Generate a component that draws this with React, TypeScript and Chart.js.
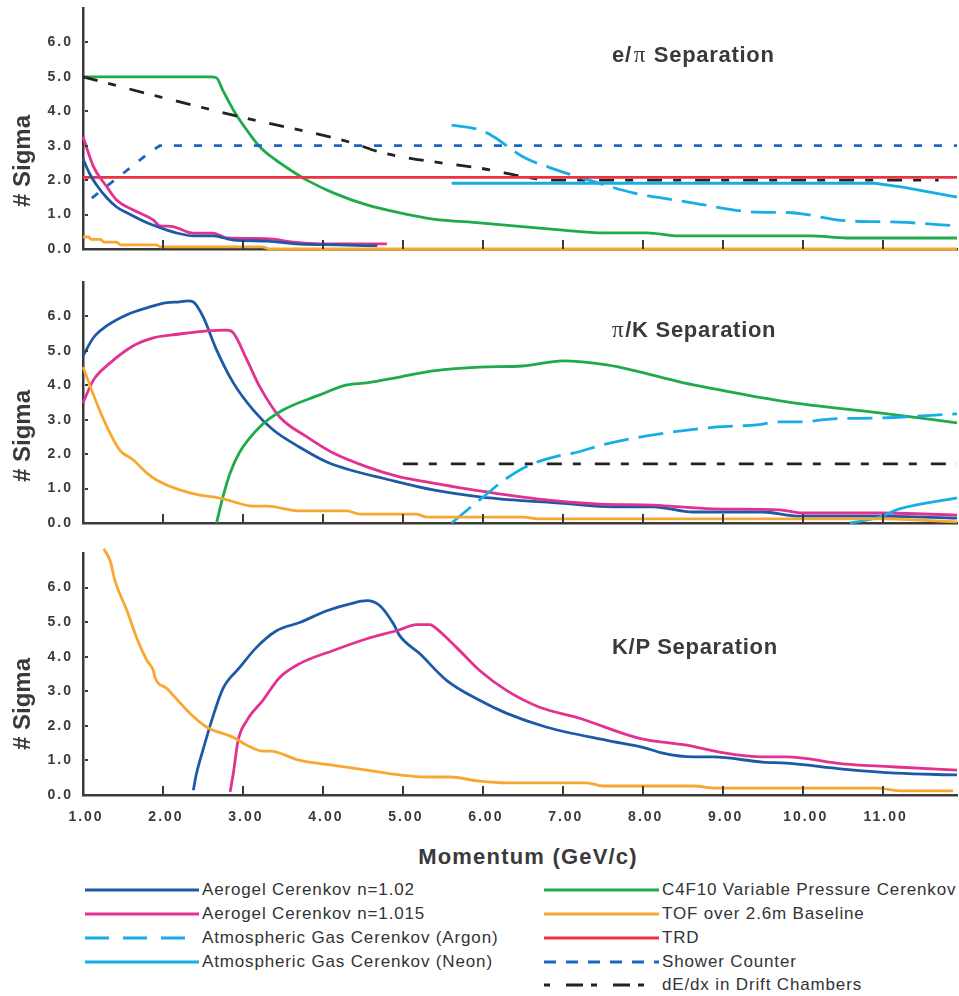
import React, { useEffect, useRef } from "react";
import { Chart, registerables } from "chart.js";

Chart.register(...registerables);

type Pt = [number, number];

// ---------------- data: e/pi separation ----------------
const epAerogel102: Pt[] = [[1, 2.62], [1.08, 2.2], [1.17, 1.86], [1.3, 1.48], [1.42, 1.22], [1.55, 1.05], [1.8, 0.76], [2.05, 0.55], [2.2, 0.45], [2.38, 0.38], [2.63, 0.38], [2.88, 0.26], [3.3, 0.23], [3.71, 0.14], [4.2, 0.12], [4.68, 0.09]];
const epAerogel1015: Pt[] = [[1, 3.26], [1.13, 2.4], [1.3, 1.8], [1.42, 1.42], [1.63, 1.13], [1.88, 0.84], [1.96, 0.67], [2.1, 0.66], [2.38, 0.46], [2.63, 0.46], [2.8, 0.32], [3.3, 0.3], [3.63, 0.2], [3.96, 0.15], [4.8, 0.15]];
const epArgon: Pt[] = [[5.61, 3.6], [5.96, 3.46], [6.13, 3.27], [6.5, 2.68], [6.92, 2.3], [7.4, 1.95], [7.88, 1.63], [8.6, 1.35], [9.43, 1.07], [9.8, 1.06], [10.55, 0.82], [11.2, 0.78], [11.93, 0.67]];
const epNeon: Pt[] = [[5.61, 1.91], [10.9, 1.91], [11.25, 1.8], [11.93, 1.51]];
const epC4F10: Pt[] = [[1, 5], [2.6, 5], [2.67, 4.97], [2.75, 4.6], [2.88, 4.04], [3.05, 3.45], [3.21, 2.97], [3.4, 2.6], [3.59, 2.3], [3.8, 2.0], [4.13, 1.63], [4.55, 1.28], [4.96, 1.05], [5.38, 0.87], [5.96, 0.76], [7.0, 0.55], [7.5, 0.47], [8.05, 0.47], [8.46, 0.38], [10.1, 0.38], [10.55, 0.32], [11.93, 0.32]];
const epTOF: Pt[] = [[1, 0.35], [1.07, 0.35], [1.1, 0.28], [1.22, 0.28], [1.26, 0.2], [1.42, 0.2], [1.47, 0.12], [1.92, 0.12], [1.97, 0.06], [3.25, 0.06], [3.33, 0], [11.93, 0]];
const epTRD: Pt[] = [[1, 2.08], [11.93, 2.08]];
const epShower: Pt[] = [[1.11, 1.48], [1.84, 2.82], [1.96, 3.0], [11.93, 3.0]];
const epDedx: Pt[] = [[1, 5], [1.96, 4.42], [3.0, 3.82], [4.34, 3.1], [4.75, 2.79], [5.96, 2.35], [6.92, 2.0], [11.7, 2.0]];

// ---------------- data: pi/K separation ----------------
const pkAerogel102: Pt[] = [[1, 4.85], [1.13, 5.38], [1.3, 5.73], [1.55, 6.05], [1.8, 6.25], [2.05, 6.4], [2.21, 6.42], [2.31, 6.45], [2.38, 6.42], [2.5, 6.0], [2.67, 5.03], [2.88, 4.07], [3.13, 3.28], [3.38, 2.7], [3.71, 2.2], [4.05, 1.77], [4.34, 1.54], [4.75, 1.3], [5.38, 0.96], [5.96, 0.76], [6.38, 0.67], [6.96, 0.58], [7.63, 0.47], [8.13, 0.47], [8.63, 0.32], [9.5, 0.32], [9.96, 0.2], [10.96, 0.2], [11.93, 0.14]];
const pkAerogel1015: Pt[] = [[1, 3.49], [1.13, 4.15], [1.34, 4.65], [1.63, 5.15], [1.88, 5.38], [2.21, 5.49], [2.55, 5.58], [2.8, 5.6], [2.88, 5.52], [3.05, 4.74], [3.21, 3.96], [3.46, 3.08], [3.8, 2.5], [4.13, 2.03], [4.55, 1.63], [4.96, 1.34], [5.38, 1.16], [5.96, 0.93], [6.67, 0.7], [7.46, 0.55], [8.13, 0.52], [8.88, 0.41], [9.71, 0.38], [10.0, 0.29], [10.96, 0.29], [11.93, 0.23]];
const pkArgon: Pt[] = [[5.61, 0], [5.96, 0.67], [6.3, 1.3], [6.59, 1.69], [7.0, 1.98], [7.13, 2.03], [7.5, 2.27], [8.05, 2.53], [8.93, 2.79], [9.43, 2.85], [9.71, 2.94], [10.0, 2.94], [10.34, 3.02], [10.96, 3.05], [11.93, 3.17]];
const pkNeon: Pt[] = [[10.59, 0], [10.96, 0.17], [11.21, 0.41], [11.93, 0.73]];
const pkC4F10: Pt[] = [[2.67, 0], [2.74, 0.67], [2.84, 1.45], [2.96, 2.06], [3.21, 2.79], [3.5, 3.28], [3.96, 3.72], [4.3, 4.01], [4.55, 4.07], [4.96, 4.24], [5.38, 4.42], [5.96, 4.53], [6.5, 4.56], [7.0, 4.71], [7.55, 4.59], [7.96, 4.39], [8.46, 4.1], [9.09, 3.81], [9.8, 3.52], [10.96, 3.2], [11.93, 2.91]];
const pkTOF: Pt[] = [[1, 4.53], [1.17, 3.49], [1.3, 2.79], [1.46, 2.12], [1.63, 1.83], [1.8, 1.45], [1.92, 1.25], [2.21, 0.96], [2.46, 0.81], [2.63, 0.76], [2.8, 0.67], [3.13, 0.49], [3.3, 0.49], [3.71, 0.35], [4.3, 0.35], [4.46, 0.26], [5.17, 0.26], [5.3, 0.17], [6.5, 0.17], [6.71, 0.12], [10.96, 0.12], [11.93, 0.03]];
const pkDedx: Pt[] = [[5.0, 1.72], [11.93, 1.72]];

// ---------------- data: K/P separation ----------------
const kpAerogel102: Pt[] = [[2.38, 0.14], [2.42, 0.63], [2.5, 1.3], [2.61, 2.16], [2.75, 3.08], [2.96, 3.69], [3.17, 4.27], [3.42, 4.75], [3.71, 4.99], [4.05, 5.33], [4.34, 5.53], [4.55, 5.62], [4.71, 5.48], [4.88, 4.96], [4.96, 4.61], [5.21, 4.09], [5.55, 3.31], [5.96, 2.74], [6.3, 2.36], [6.8, 1.96], [7.55, 1.58], [8.0, 1.38], [8.25, 1.21], [8.63, 1.1], [8.88, 1.1], [9.5, 0.95], [9.8, 0.92], [10.5, 0.75], [11.17, 0.63], [11.93, 0.58]];
const kpAerogel1015: Pt[] = [[2.84, 0.09], [2.88, 0.63], [2.94, 1.58], [3.05, 2.16], [3.25, 2.74], [3.46, 3.4], [3.71, 3.8], [4.13, 4.18], [4.55, 4.52], [4.96, 4.78], [5.17, 4.93], [5.34, 4.93], [5.42, 4.81], [5.67, 4.27], [5.96, 3.6], [6.3, 3.02], [6.71, 2.54], [7.21, 2.22], [7.96, 1.64], [8.55, 1.44], [8.96, 1.24], [9.5, 1.1], [9.8, 1.1], [10.5, 0.9], [11.17, 0.81], [11.93, 0.72]];
const kpTOF: Pt[] = [[1.26, 7.12], [1.34, 6.77], [1.4, 6.2], [1.55, 5.33], [1.67, 4.55], [1.8, 3.89], [1.88, 3.6], [1.9, 3.4], [2.05, 3.08], [2.13, 2.88], [2.34, 2.36], [2.55, 1.96], [2.88, 1.67], [3.05, 1.44], [3.25, 1.27], [3.34, 1.27], [3.71, 1.0], [4.13, 0.86], [4.55, 0.72], [4.96, 0.58], [5.3, 0.52], [5.59, 0.52], [5.96, 0.4], [6.3, 0.35], [7.3, 0.35], [7.5, 0.26], [8.63, 0.26], [8.92, 0.2], [10.92, 0.2], [11.21, 0.12], [11.88, 0.12]];

// ---------------- labels ----------------
const panelTitles: [string, string, string][] = [["e/", "π", " Separation"], ["", "π", "/K Separation"], ["K/P Separation", "", ""]];
const yAxisTitle = "# Sigma";
const xAxisTitle = "Momentum (GeV/c)";
const X_MIN = 1;
const X_MAX = 11.93;
const Y_MAX = 7;

// ---------------- styles ----------------
const FONT = '"Liberation Sans", Arial, Helvetica, sans-serif';
const SERIF = '"Liberation Serif", "DejaVu Serif", serif';
const AXIS = "#3a3a3a";
const TEXT = "#3a3a3a";

type Key = "a102" | "a1015" | "argon" | "neon" | "c4f10" | "tof" | "trd" | "shower" | "dedx";
const STYLE: Record<Key, { label: string; color: string; dash: number[]; legendDash: string }> = {
  a102: { label: "Aerogel Cerenkov n=1.02", color: "#1c5aa8", dash: [], legendDash: "" },
  a1015: { label: "Aerogel Cerenkov n=1.015", color: "#e2318f", dash: [], legendDash: "" },
  argon: { label: "Atmospheric Gas Cerenkov (Argon)", color: "#17aee6", dash: [25, 10], legendDash: "24 14" },
  neon: { label: "Atmospheric Gas Cerenkov (Neon)", color: "#17aee6", dash: [], legendDash: "" },
  c4f10: { label: "C4F10 Variable Pressure Cerenkov", color: "#1faa4b", dash: [], legendDash: "" },
  tof: { label: "TOF over 2.6m Baseline", color: "#f8a830", dash: [], legendDash: "" },
  trd: { label: "TRD", color: "#ea3240", dash: [], legendDash: "" },
  shower: { label: "Shower Counter", color: "#1a66c0", dash: [8, 12], legendDash: "12 10" },
  dedx: { label: "dE/dx in Drift Chambers", color: "#222222", dash: [15, 11, 8, 14], legendDash: "6 16 17 8" },
};

function ds(key: Key, pts: Pt[], smooth = true) {
  const s = STYLE[key];
  return {
    label: s.label,
    data: pts.map(([x, y]) => ({ x, y })),
    borderColor: s.color,
    backgroundColor: s.color,
    borderWidth: 2.8,
    borderDash: s.dash,
    pointRadius: 0,
    pointHoverRadius: 0,
    fill: false,
    clip: false,
    tension: 0,
    cubicInterpolationMode: smooth ? "monotone" : "default",
  };
}

const panels = [
  {
    top: 0, height: 262, padTop: 8, padBottom: 13, xH: 0, labels: false,
    datasets: () => [
      ds("tof", epTOF, false), ds("a102", epAerogel102), ds("a1015", epAerogel1015),
      ds("trd", epTRD, false), ds("shower", epShower, false), ds("neon", epNeon, false),
      ds("argon", epArgon), ds("dedx", epDedx), ds("c4f10", epC4F10),
    ],
  },
  {
    top: 270, height: 265, padTop: 12, padBottom: 12, xH: 0, labels: false,
    datasets: () => [
      ds("tof", pkTOF), ds("dedx", pkDedx, false), ds("neon", pkNeon), ds("argon", pkArgon),
      ds("c4f10", pkC4F10), ds("a1015", pkAerogel1015), ds("a102", pkAerogel102),
    ],
  },
  {
    top: 540, height: 300, padTop: 13, padBottom: 0, xH: 45, labels: true,
    datasets: () => [ds("tof", kpTOF), ds("a1015", kpAerogel1015), ds("a102", kpAerogel102)],
  },
];

const axisDecor = {
  id: "axisDecor",
  beforeDraw(chart: any) {
    chart.ctx.letterSpacing = "2px";
  },
  afterDraw(chart: any) {
    const { ctx, chartArea, scales } = chart;
    ctx.save();
    ctx.letterSpacing = "0px";
    ctx.strokeStyle = AXIS;
    ctx.lineWidth = 2;
    scales.x.ticks.forEach((t: any) => {
      if (t.value <= X_MIN) return;
      const px = Math.round(scales.x.getPixelForValue(t.value));
      ctx.beginPath();
      ctx.moveTo(px, chartArea.bottom);
      ctx.lineTo(px, chartArea.bottom - 9);
      ctx.stroke();
    });
    scales.y.ticks.forEach((t: any) => {
      if (t.value <= 0) return;
      const py = Math.round(scales.y.getPixelForValue(t.value));
      ctx.beginPath();
      ctx.moveTo(chartArea.left + 2, py);
      ctx.lineTo(chartArea.left + 5, py);
      ctx.stroke();
    });
    ctx.restore();
  },
};

function Panel(p: (typeof panels)[number]) {
  const ref = useRef<HTMLCanvasElement>(null);
  useEffect(() => {
    const tickFont = { family: FONT, size: 14, weight: "bold" as const };
    const chart = new Chart(ref.current as HTMLCanvasElement, {
      type: "line",
      data: { datasets: p.datasets() as any },
      options: {
        responsive: false,
        animation: false,
        devicePixelRatio: 1,
        layout: { autoPadding: false, padding: { top: p.padTop, bottom: p.padBottom, left: 0, right: 2 } },
        plugins: { legend: { display: false }, tooltip: { enabled: false }, title: { display: false } },
        scales: {
          x: {
            type: "linear",
            min: X_MIN,
            max: X_MAX,
            grid: { display: false, drawTicks: false },
            border: { display: true, color: AXIS, width: 2.5 },
            ticks: {
              display: p.labels,
              stepSize: 1,
              includeBounds: false,
              padding: 14,
              labelOffset: 3,
              color: TEXT,
              font: tickFont,
              maxRotation: 0,
              autoSkip: false,
              callback: (v: any) => Number(v).toFixed(2),
            },
            afterFit: (s: any) => {
              s.height = p.xH;
              s.paddingTop = 0;
              s.paddingBottom = 0;
            },
          },
          y: {
            type: "linear",
            min: 0,
            max: Y_MAX,
            grid: { display: false, drawTicks: false },
            border: { display: true, color: AXIS, width: 2.5 },
            ticks: {
              stepSize: 1,
              padding: 10,
              color: TEXT,
              font: tickFont,
              callback: (v: any) => Number(v).toFixed(1),
            },
            afterBuildTicks: (s: any) => {
              s.ticks = s.ticks.filter((t: any) => t.value <= 6);
            },
            afterFit: (s: any) => {
              s.width = 83;
              s.paddingTop = 0;
              s.paddingBottom = 0;
            },
          },
        },
      } as any,
      plugins: [axisDecor],
    });
    return () => chart.destroy();
  }, []);
  return (
    <canvas
      ref={ref}
      width={959}
      height={p.height}
      style={{ position: "absolute", left: 0, top: p.top, width: 959, height: p.height }}
    />
  );
}

const legendCol1: Key[] = ["a102", "a1015", "argon", "neon"];
const legendCol2: Key[] = ["c4f10", "tof", "trd", "shower", "dedx"];
const legendRows = [890, 914, 938, 962, 985];

function LegendItem({ k, x, y, textX }: { k: Key; x: number; y: number; textX: number }) {
  const s = STYLE[k];
  const w = textX - x - 3;
  return (
    <>
      <svg width={w} height={6} style={{ position: "absolute", left: x, top: y - 3 }}>
        <line x1={0} y1={3} x2={w} y2={3} stroke={s.color} strokeWidth={3} strokeDasharray={s.legendDash || undefined} />
      </svg>
      <div
        style={{
          position: "absolute",
          left: textX,
          top: y - 11,
          height: 22,
          lineHeight: "22px",
          fontSize: 17,
          letterSpacing: 0.85,
          color: "#333",
          whiteSpace: "nowrap",
        }}
      >
        {s.label}
      </div>
    </>
  );
}

export default function App() {
  const titleTops = [55, 330, 647];
  const sigmaCenters = [161, 436, 704];
  return (
    <div style={{ position: "absolute", left: 0, top: 0, width: 959, height: 996, fontFamily: FONT, background: "#fff" }}>
      {panels.map((p, i) => (
        <Panel key={i} {...p} />
      ))}
      {panelTitles.map(([a, pi, b], i) => (
        <div
          key={i}
          style={{
            position: "absolute",
            left: 612,
            top: titleTops[i] - 14,
            height: 28,
            lineHeight: "28px",
            fontSize: 22,
            fontWeight: "bold",
            color: TEXT,
            whiteSpace: "nowrap",
            letterSpacing: 0.7,
          }}
        >
          {a}
          {pi ? (
            <span style={{ fontFamily: SERIF, fontWeight: "normal", fontSize: 23, marginLeft: a ? 2 : 0, marginRight: 1 }}>{pi}</span>
          ) : null}
          {b}
        </div>
      ))}
      {sigmaCenters.map((c, i) => (
        <div
          key={i}
          style={{
            position: "absolute",
            left: 22,
            top: c,
            fontSize: 24,
            fontWeight: "bold",
            color: TEXT,
            whiteSpace: "nowrap",
            transform: "translate(-50%, -50%) rotate(-90deg)",
          }}
        >
          {yAxisTitle}
        </div>
      ))}
      <div
        style={{
          position: "absolute",
          left: 528,
          top: 857,
          fontSize: 22,
          fontWeight: "bold",
          color: TEXT,
          whiteSpace: "nowrap",
          letterSpacing: 1.2,
          transform: "translate(-50%, -50%)",
        }}
      >
        {xAxisTitle}
      </div>
      {legendCol1.map((k, i) => (
        <LegendItem key={k} k={k} x={85} y={legendRows[i]} textX={202} />
      ))}
      {legendCol2.map((k, i) => (
        <LegendItem key={k} k={k} x={544} y={legendRows[i]} textX={662} />
      ))}
    </div>
  );
}
